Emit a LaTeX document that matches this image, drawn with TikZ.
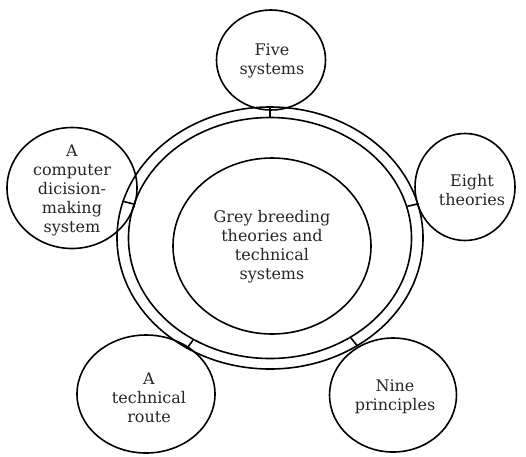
\documentclass[tikz,border=0pt]{standalone}
\usepackage{fontspec}
\setmainfont{DejaVu Serif}
\usetikzlibrary{shapes.geometric}
\begin{document}
\begin{tikzpicture}[x=1pt,y=-1pt,
  ring/.style={draw, ellipse, line width=1.6pt, inner sep=0pt},
  topic/.style={draw, ellipse, line width=1.6pt, inner sep=0pt},
  label/.style={align=center, font=\fontsize{16}{19}\selectfont, text=black!85},
  link/.style={line width=1.6pt}]
\useasboundingbox (0,0) rectangle (526,456);
% concentric rings around the core
\node[ring, minimum width=306pt, minimum height=262pt] (outer) at (270,238) {};
\node[ring, minimum width=283pt, minimum height=241pt] (inner) at (270,238) {};
\node[topic, minimum width=198pt, minimum height=176pt] (core) at (272,246) {};
\node[label] (coretext) at (272,247) {Grey breeding\\theories and\\technical\\systems};
% satellite circles
\node[topic, minimum width=109pt, minimum height=100pt] (five) at (271,60) {};
\node[label] (fivetext) at (272,61) {Five\\systems};
\node[topic, minimum width=100pt, minimum height=107pt] (eight) at (465,187) {};
\node[label] (eighttext) at (472,190) {Eight\\theories};
\node[topic, minimum width=130pt, minimum height=121pt] (comp) at (72,188) {};
\node[label] (comptext) at (72,190) {A\\computer\\dicision-\\making\\system};
\node[topic, minimum width=138pt, minimum height=118pt] (route) at (146,394) {};
\node[label] (routetext) at (149,398) {A\\technical\\route};
\node[topic, minimum width=127pt, minimum height=114pt] (nine) at (393,395) {};
\node[label] (ninetext) at (395,397) {Nine\\principles};
% short ties across the ring
\draw[link] (outer.90) -- (inner.90);
\draw[link] (outer.13) -- (inner.13);
\draw[link] (outer.166) -- (inner.166);
\draw[link] (outer.233) -- (inner.233);
\draw[link] (outer.309) -- (inner.309);
\end{tikzpicture}
\end{document}
